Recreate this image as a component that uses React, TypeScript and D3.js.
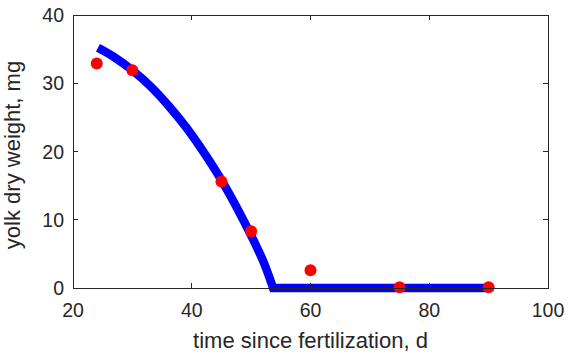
import React from "react";
import * as d3 from "d3";

const obsDays = [24, 30, 45, 50, 60, 75, 90];
const obsYolk = [32.9, 31.9, 15.6, 8.3, 2.6, 0.1, 0.1];

const fitDays = [24.2, 27, 30, 33, 36, 39, 42, 45, 48, 50, 51, 52, 53.7];
const fitYolk = [35.2, 33.8, 31.9, 29.6, 26.8, 23.6, 19.9, 15.8, 11.1, 7.7, 5.9, 4.0, 0];
const fitEndDay = 90;

const xTicks = [20, 40, 60, 80, 100];
const yTicks = [0, 10, 20, 30, 40];

const W = 571;
const H = 356;
const L = 73;
const R = 548;
const T = 15;
const B = 288;

export default function App() {
  const x = d3.scaleLinear().domain([20, 100]).range([L, R]);
  const y = d3.scaleLinear().domain([0, 40]).range([B, T]);
  const pts: [number, number][] = fitDays.map((d, i) => [d, fitYolk[i]]);
  const curve = d3
    .line<[number, number]>()
    .x((d) => x(d[0]))
    .y((d) => y(d[1]))
    .curve(d3.curveMonotoneX)(pts) as string;
  const fitPath = `${curve}L${x(fitEndDay)},${y(0)}`;
  const axisColor = "#262626";
  const font = "'Liberation Sans', Arial, Helvetica, sans-serif";
  const tl = 5;
  return (
    <svg width={W} height={H} style={{ position: "absolute", left: 0, top: 0 }}>
      <rect x={0} y={0} width={W} height={H} fill="#fff" />
      <path d={fitPath} fill="none" stroke="#0000ff" strokeWidth={8.5} strokeLinejoin="miter" strokeLinecap="butt" />
      {obsDays.map((d, i) => (
        <circle key={i} cx={x(d)} cy={y(obsYolk[i])} r={6} fill="#ff0000" />
      ))}
      <g stroke={axisColor} strokeWidth={1} fill="none" shapeRendering="crispEdges">
        <rect x={L} y={T} width={R - L} height={B - T} />
        {xTicks.map((t) => (
          <g key={"x" + t}>
            <line x1={x(t)} x2={x(t)} y1={B} y2={B - tl} />
            <line x1={x(t)} x2={x(t)} y1={T} y2={T + tl} />
          </g>
        ))}
        {yTicks.map((t) => (
          <g key={"y" + t}>
            <line x1={L} x2={L + tl} y1={y(t)} y2={y(t)} />
            <line x1={R} x2={R - tl} y1={y(t)} y2={y(t)} />
          </g>
        ))}
      </g>
      <g fill={axisColor} fontFamily={font} fontSize={19.5}>
        {xTicks.map((t) => (
          <text key={"xl" + t} x={x(t)} y={317} textAnchor="middle">
            {t}
          </text>
        ))}
        {yTicks.map((t) => (
          <text key={"yl" + t} x={L - 9} y={y(t) + 7} textAnchor="end">
            {t}
          </text>
        ))}
      </g>
      <text x={(L + R) / 2} y={348} textAnchor="middle" fontFamily={font} fontSize={22} fill={axisColor}>
        time since fertilization, d
      </text>
      <text
        transform={`translate(20,155) rotate(-90)`}
        textAnchor="middle"
        fontFamily={font}
        fontSize={22}
        fill={axisColor}
      >
        yolk dry weight, mg
      </text>
    </svg>
  );
}
